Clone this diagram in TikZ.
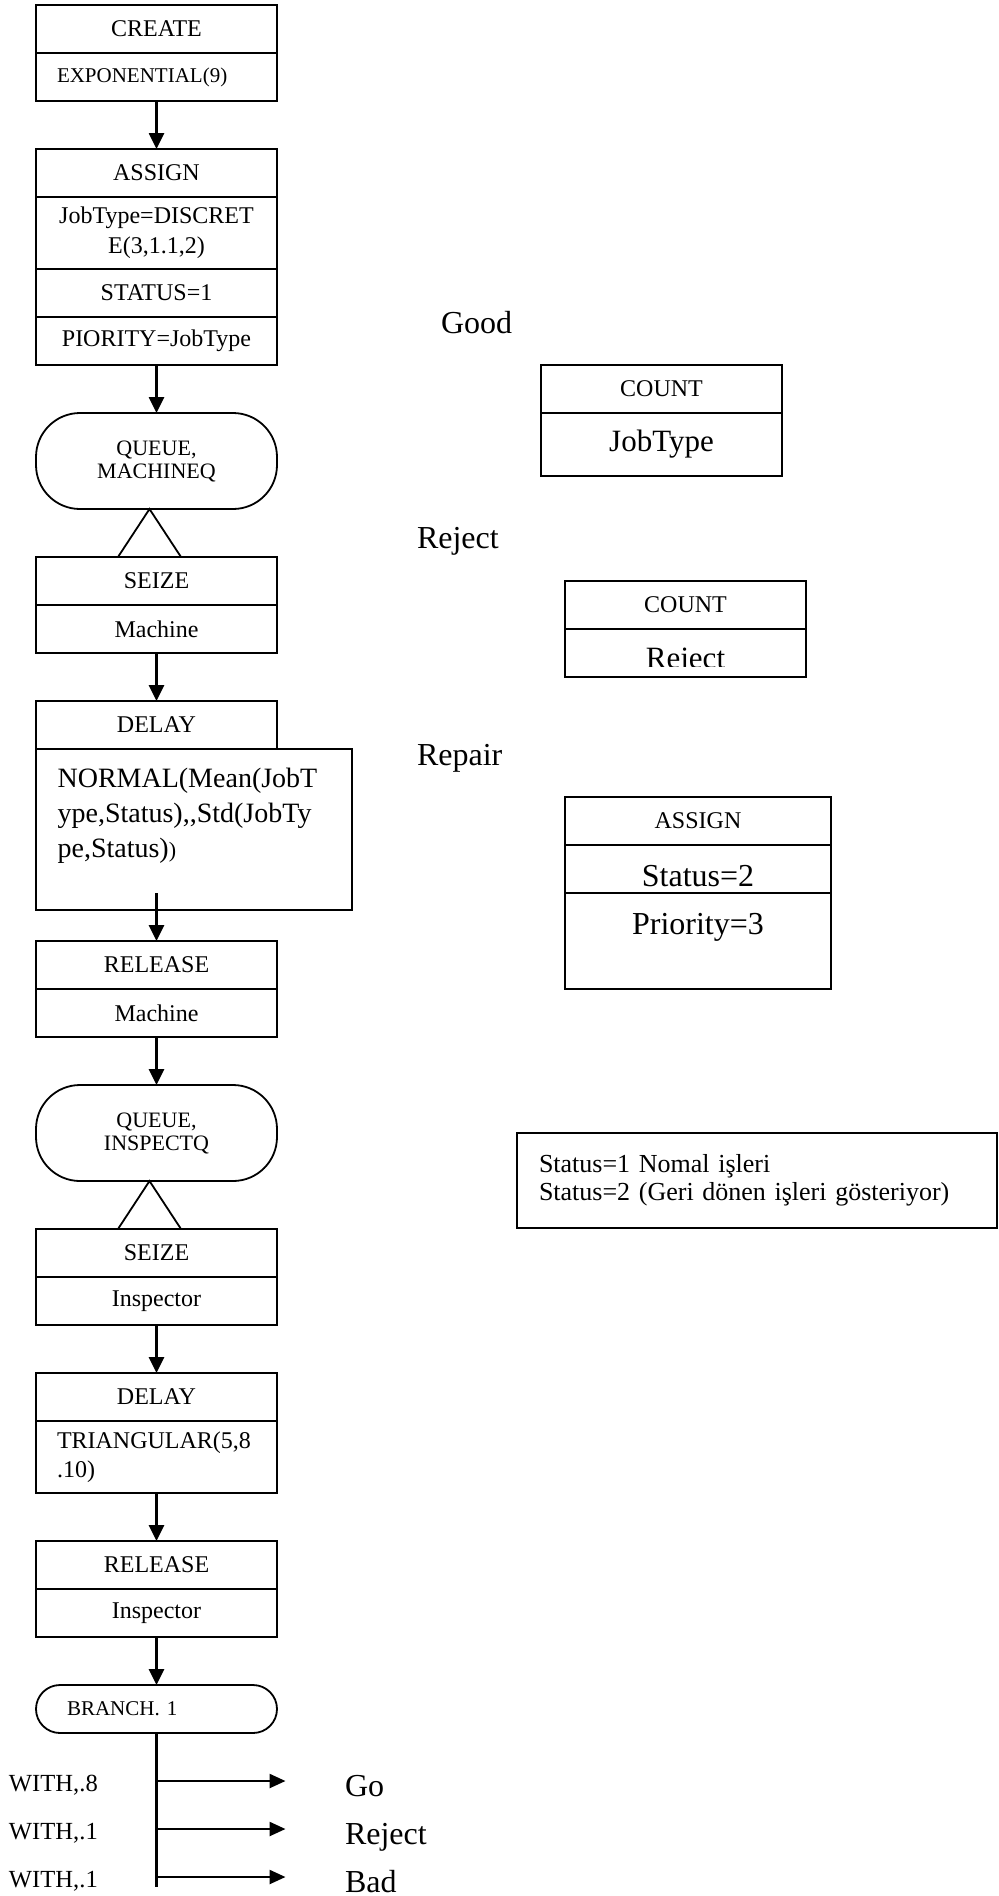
\documentclass[tikz,border=0pt]{standalone}
\usepackage{fontspec}
\setmainfont{Liberation Serif}
\usepackage{tikz}
\usetikzlibrary{calc}
\usetikzlibrary{positioning, arrows.meta}

\begin{document}
\begin{tikzpicture}[x=0.5pt,y=-0.5pt,>={Triangle[length=8pt,width=7.5pt]},node distance=24pt,
    every node/.style={inner sep=0pt,outer sep=0pt},
    blk/.style={draw,line width=0.9pt,minimum width=120.5pt,minimum height=24pt,
      align=center,font=\fontsize{12}{15}\selectfont},
    lblk/.style={blk,text width=99.5pt,inner xsep=10.5pt,align=left},
    queue/.style={blk,rounded corners=22pt,minimum height=48pt,font=\fontsize{11}{11.5}\selectfont},
    flow/.style={->,line width=1.3pt},
    big/.style={anchor=base west,font=\fontsize{16}{18}\selectfont},
    small/.style={anchor=base west,font=\fontsize{12.3}{15}\selectfont}]
  \useasboundingbox (0,0) rectangle (998,1896);

  % main flow
  \node[blk]                    (cr)   at (156.5,29)        {CREATE};
  \node[lblk,font=\fontsize{10.5}{12}\selectfont] (crb) [below=0pt of cr] {EXPONENTIAL(9)};
  \node[blk]                    (as)   [below=of crb]       {ASSIGN};
  \node[blk,minimum height=36pt] (as1) [below=0pt of as]    {JobType=DISCRET\\E(3,1.1,2)};
  \node[blk]                    (as2)  [below=0pt of as1]   {STATUS=1};
  \node[blk]                    (as3)  [below=0pt of as2]   {PIORITY=JobType};
  \node[queue]                  (mq)   [below=of as3]       {QUEUE,\\MACHINEQ};
  \node[blk]                    (sz)   [below=of mq]        {SEIZE};
  \node[blk]                    (szb)  [below=0pt of sz]    {Machine};
  \node[blk]                    (dl)   [below=of szb]       {DELAY};
  \node[blk,minimum width=158pt,minimum height=80.5pt,anchor=north west] (dlb) at (dl.south west) {};
  \node[anchor=north west,align=left,font=\fontsize{14}{17.5}\selectfont] (dlt)
       [below right=9.3pt and 10.8pt of dlb.north west]
       {NORMAL(Mean(JobT\\ype,Status),{},Std(JobTy\\pe,Status){\fontsize{11}{13}\selectfont)}};
  \coordinate (dlo) at ($(dl.south |- dlb.south)+(0,-17)$);
  \node[blk]                    (rl)   [below=15.5pt of dlb.south west,anchor=north west] {RELEASE};
  \node[blk]                    (rlb)  [below=0pt of rl]    {Machine};
  \node[queue]                  (iq)   [below=of rlb]       {QUEUE,\\INSPECTQ};
  \node[blk]                    (sz2)  [below=of iq]        {SEIZE};
  \node[blk]                    (sz2b) [below=0pt of sz2]   {Inspector};
  \node[blk]                    (dl2)  [below=of sz2b]      {DELAY};
  \node[lblk,minimum height=36pt,font=\fontsize{12}{14.5}\selectfont] (dl2b) [below=0pt of dl2] {TRIANGULAR(5,8\\.10)};
  \node[blk]                    (rl2)  [below=of dl2b]      {RELEASE};
  \node[blk]                    (rl2b) [below=0pt of rl2]   {Inspector};
  \node[blk,rounded corners=12pt,text width=89.5pt,inner xsep=15.5pt,align=left,
        font=\fontsize{10.5}{12}\selectfont] (br) [below=of rl2b] {BRANCH. 1};

  \draw[line width=0.9pt] ($(sz.north)+(-38.5,0)$) -- ($(mq.south)+(-7,0)$) -- ($(sz.north)+(24.5,0)$);
  \draw[line width=0.9pt] ($(sz2.north)+(-38.5,0)$) -- ($(iq.south)+(-7,0)$) -- ($(sz2.north)+(24.5,0)$);

  \path[flow]
        (crb)  edge (as)
        (as3)  edge (mq)
        (szb)  edge (dl)
        (dlo)  edge (rl)
        (rlb)  edge (iq)
        (sz2b) edge (dl2)
        (dl2b) edge (rl2)
        (rl2b) edge (br);

  % branch
  \coordinate (tr) at ($(br.south)+(0,154)$);
  \coordinate (w1) at ($(br.south)+(0,48)$);
  \coordinate (w2) at ($(br.south)+(0,96)$);
  \coordinate (w3) at ($(br.south)+(0,144)$);
  \coordinate (e1) at ($(w1)+(129,0)$);
  \coordinate (e2) at ($(w2)+(129,0)$);
  \coordinate (e3) at ($(w3)+(129,0)$);
  \draw[line width=1.2pt] (br) -- (tr);
  \path[->,line width=1.2pt,>={Triangle[length=8pt,width=7pt]}]
        (w1) edge (e1)
        (w2) edge (e2)
        (w3) edge (e3);
  \node[small] (p1) at (9,1791) {WITH,.8};
  \node[small] (p2) at (9,1839) {WITH,.1};
  \node[small] (p3) at (9,1887) {WITH,.1};
  \node[big]   (go) at (345,1796) {Go};
  \node[big]   (rj) at (345,1844) {Reject};
  \node[big]   (bd) at (345,1892) {Bad};

  % side blocks
  \node[big] (gdl) at (441,333) {Good};
  \node[blk] (cnt1) at (661.5,389) {COUNT};
  \node[blk,minimum height=31.5pt,font=\fontsize{15.5}{18}\selectfont] (cnt1b) [below=0pt of cnt1] {JobType};

  \node[big] (rjl) at (417,548) {Reject};
  \node[blk] (cnt2) at (685.5,605) {COUNT};
  \node[blk] (cnt2b) [below=0pt of cnt2] {};
  \begin{scope}
    \clip (cnt2b.north west) rectangle ([yshift=5.25pt]cnt2b.south east);
    \node[anchor=base,font=\fontsize{15.5}{18}\selectfont] (cnt2t) at (685.5,668.5) {Reject};
  \end{scope}

  \node[big] (rpl) at (417,765) {Repair};
  \node[blk,minimum width=133pt] (rep)  at (698,821) {ASSIGN};
  \node[blk,minimum width=133pt] (rep1) [below=0pt of rep] {};
  \node[blk,minimum width=133pt,minimum height=48pt] (rep2) [below=0pt of rep1] {};
  \node[anchor=base,font=\fontsize{16}{18}\selectfont] (st2) at (698,886) {Status=2};
  \node[anchor=base,font=\fontsize{16}{18}\selectfont] (pr3) at (698,934) {Priority=3};

  \node[draw,line width=0.9pt,minimum width=240pt,minimum height=47.5pt,text width=218pt,
        inner xsep=11pt,align=left,anchor=north west,font=\fontsize{13}{14}\selectfont] (nt) at (517,1133)
       {Status=1 Nomal işleri\\Status=2 (Geri dönen işleri gösteriyor)};
\end{tikzpicture}
\end{document}
